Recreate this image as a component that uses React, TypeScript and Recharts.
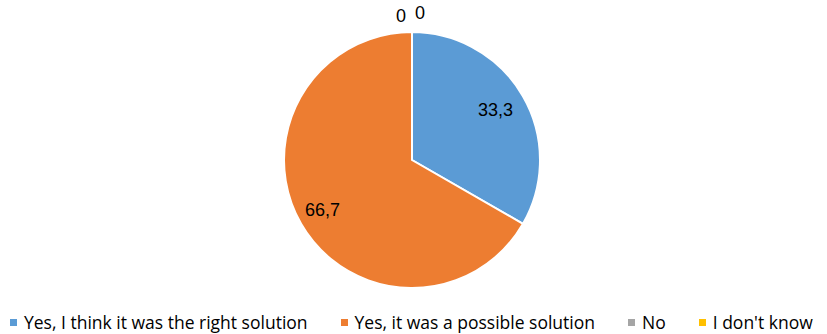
import React from 'react';
import { PieChart, Pie, Cell, Legend } from 'recharts';

const answers = [
  'Yes, I think it was the right solution',
  'Yes, it was a possible solution',
  'No',
  "I don't know",
];
const shares = [33.3, 66.7, 0, 0];
const shareLabels = ['33,3', '66,7', '0', '0'];
const colors = ['#5B9BD5', '#ED7D31', '#A5A5A5', '#FFC000'];

const data = answers.map((name, i) => ({ name, value: shares[i] }));

const FONT = '"Liberation Sans", Arial, sans-serif';
const RAD = Math.PI / 180;

const renderLabel = (props: any) => {
  const { cx, cy, midAngle, outerRadius, index } = props;
  const zero = shares[index] === 0;
  // zero slices sit just outside the rim, nudged apart so they don't overlap
  const r = zero ? outerRadius + 17 : outerRadius * 0.78;
  let x = cx + r * Math.cos(-midAngle * RAD);
  let y = cy + r * Math.sin(-midAngle * RAD);
  if (zero) {
    x += index === 2 ? -11 : 8;
    y += index === 2 ? 1 : -2;
  } else {
    x -= 3;
  }
  return (
    <text x={x} y={y} textAnchor="middle" dominantBaseline="central" fill="#000" fontSize={18} fontFamily={FONT}>
      {shareLabels[index]}
    </text>
  );
};

const renderLegend = (props: any) => {
  const items = [...(props.payload || [])].sort(
    (a: any, b: any) => answers.indexOf(a.value) - answers.indexOf(b.value)
  );
  return (
    <div style={{ display: 'flex', paddingLeft: 10, paddingTop: 4, gap: 33, whiteSpace: 'nowrap', width: 827, boxSizing: 'border-box', fontFamily: '"Open Sans", sans-serif', fontSize: 17.5, color: '#000' }}>
      {items.map((p: any, i: number) => (
        <div key={i} style={{ display: 'flex', alignItems: 'center', flexShrink: 0 }}>
          <span style={{ display: 'inline-block', width: 7, height: 7, background: p.color, marginRight: 7 }} />
          <span>{p.value}</span>
        </div>
      ))}
    </div>
  );
};

export default function App() {
  return (
    <div style={{ position: 'absolute', left: 0, top: 0, background: '#fff' }}>
      <PieChart width={827} height={334} margin={{ top: 0, right: 0, bottom: 0, left: 0 }}>
        <Pie
          data={data}
          dataKey="value"
          nameKey="name"
          cx={412}
          cy={160}
          outerRadius={128}
          startAngle={90}
          endAngle={-270}
          stroke="#fff"
          strokeWidth={2}
          label={renderLabel}
          labelLine={false}
          isAnimationActive={false}
        >
          {data.map((_, i) => (
            <Cell key={i} fill={colors[i]} />
          ))}
        </Pie>
        <Legend verticalAlign="bottom" height={28} width={827} wrapperStyle={{ left: 0 }} content={renderLegend} />
      </PieChart>
    </div>
  );
}
